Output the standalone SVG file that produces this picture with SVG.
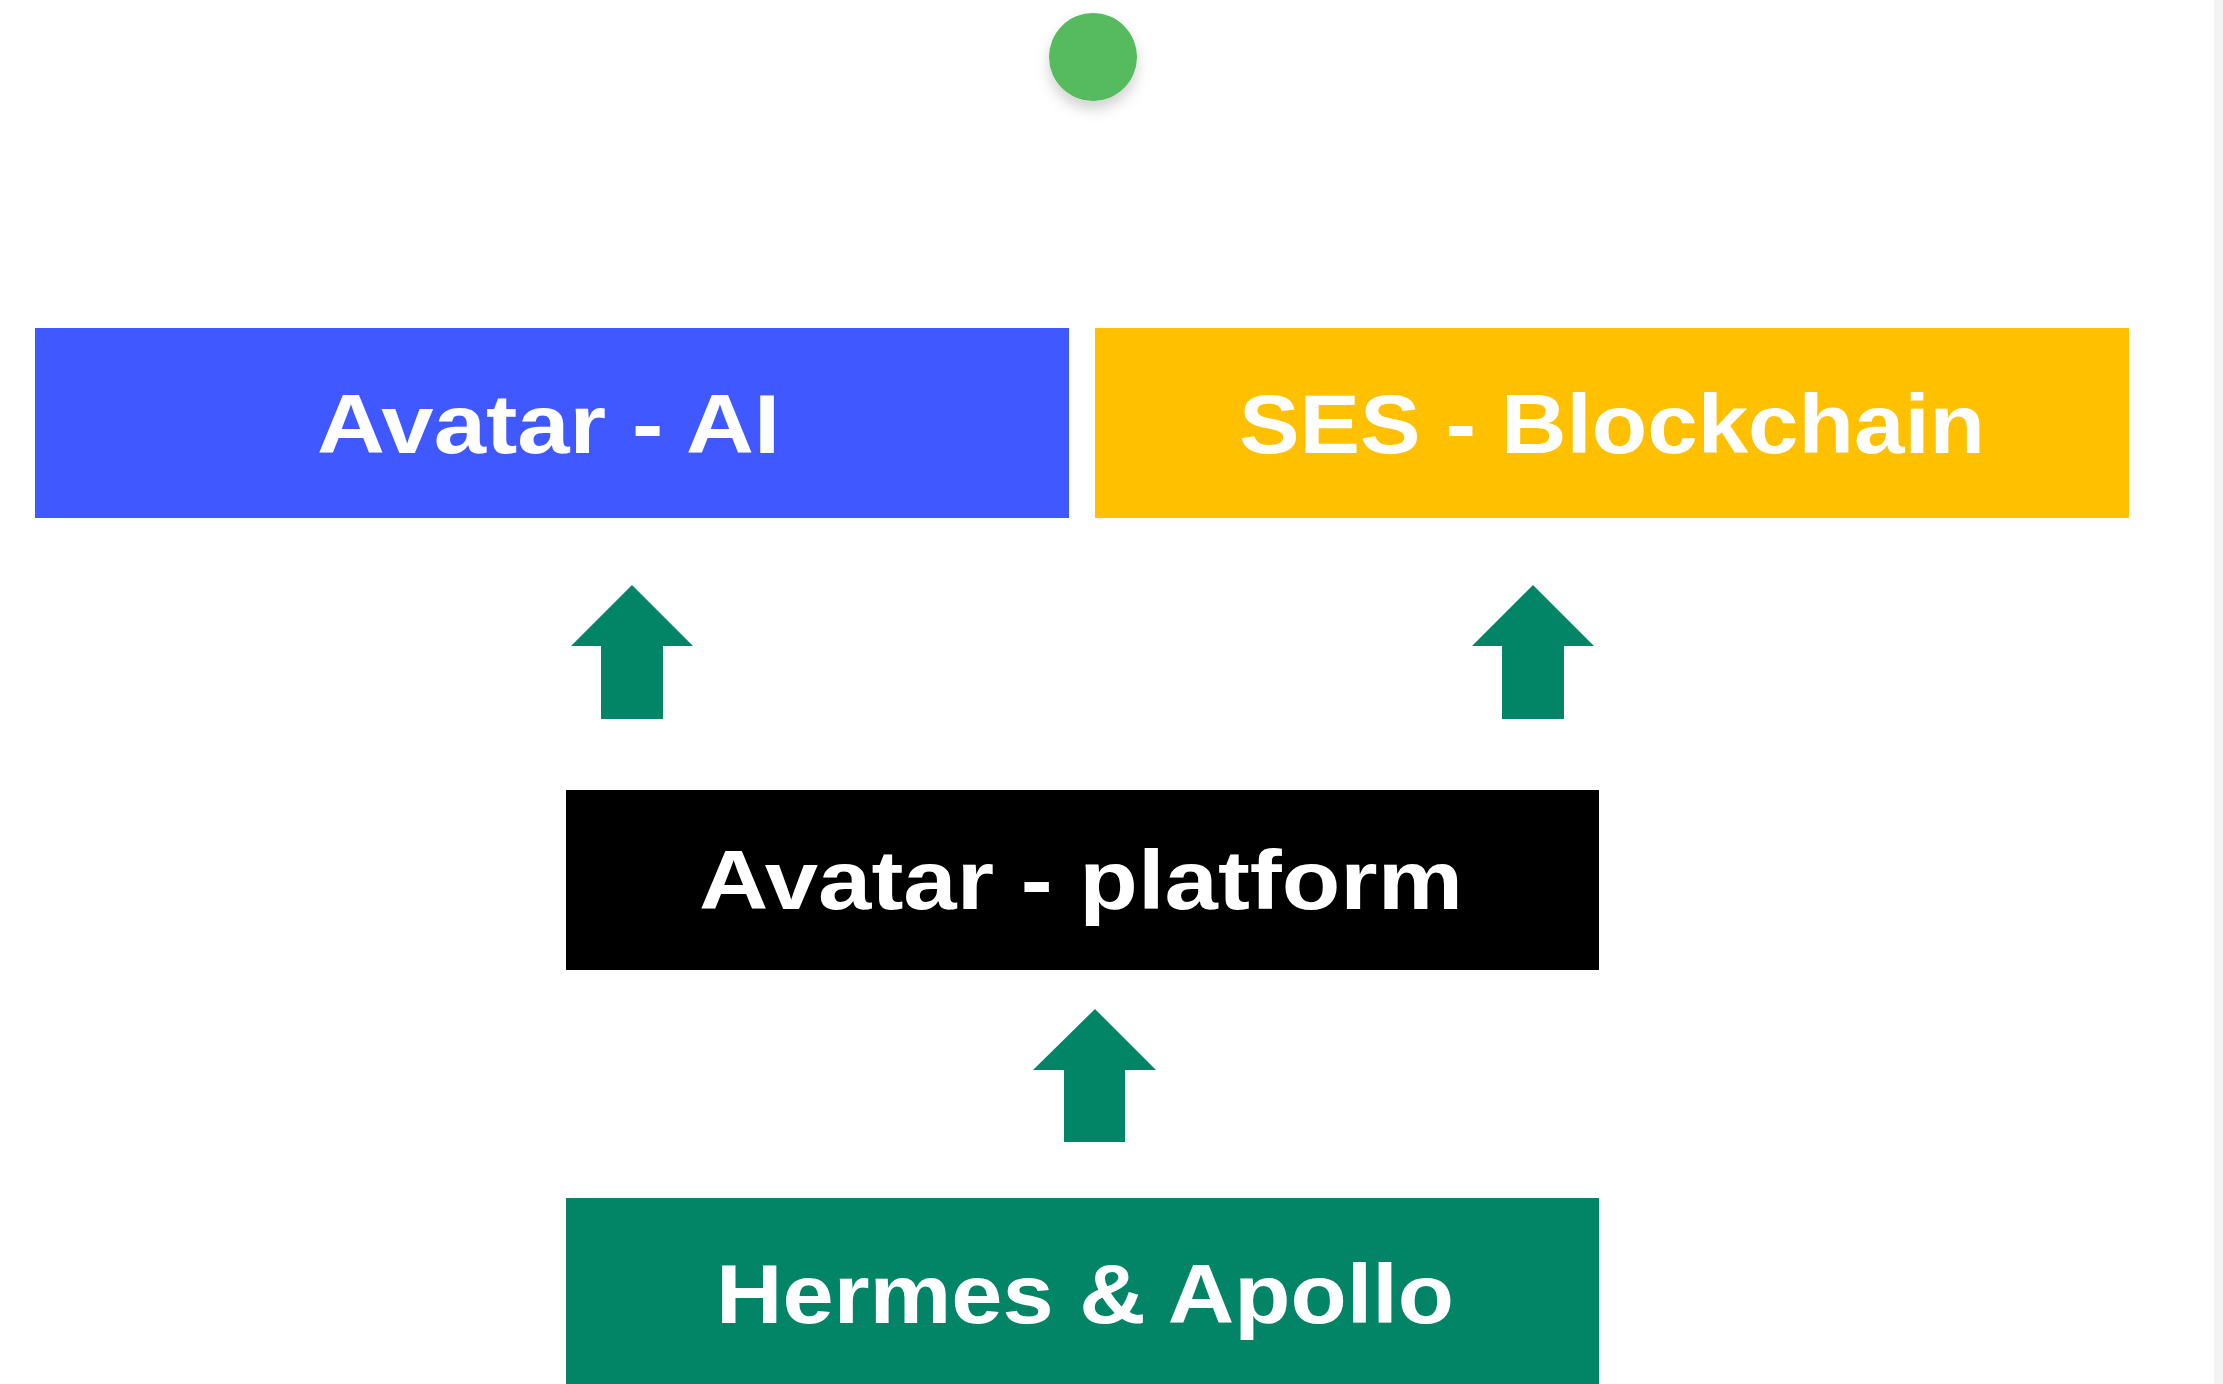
<svg xmlns="http://www.w3.org/2000/svg" width="2223" height="1384" viewBox="0 0 2223 1384">
  <style>
    .lbl { font-family: "Liberation Sans", Arial, sans-serif; font-weight: bold; font-size: 84px; fill: #ffffff; text-anchor: middle; }
    .arrow { fill: #028567; }
  </style>
  <defs>
    <filter id="shadow" x="-50%" y="-50%" width="200%" height="220%">
      <feDropShadow dx="0" dy="8" stdDeviation="7" flood-color="#000000" flood-opacity="0.18"/>
    </filter>
  </defs>
  <rect x="0" y="0" width="2223" height="1384" fill="#ffffff"/>
  <rect x="2214" y="0" width="9" height="1384" fill="#f3f3f3"/>

  <g id="start">
    <circle cx="1093" cy="57" r="44" fill="#57BA5F" filter="url(#shadow)"/>
  </g>

  <g id="avatar-ai">
    <rect x="35" y="328" width="1034" height="190" fill="#3F58FF"/>
    <text class="lbl" x="548.5" y="453" textLength="463" lengthAdjust="spacingAndGlyphs">Avatar - AI</text>
  </g>

  <g id="ses-blockchain">
    <rect x="1095" y="328" width="1034" height="190" fill="#FFC000"/>
    <text class="lbl" x="1612" y="453" textLength="746" lengthAdjust="spacingAndGlyphs">SES - Blockchain</text>
  </g>

  <g id="avatar-platform">
    <rect x="566" y="790" width="1033" height="180" fill="#000000"/>
    <text class="lbl" x="1081" y="909" textLength="764" lengthAdjust="spacingAndGlyphs">Avatar - platform</text>
  </g>

  <g id="hermes-apollo">
    <rect x="566" y="1198" width="1033" height="186" fill="#028567"/>
    <text class="lbl" x="1085" y="1323" textLength="738" lengthAdjust="spacingAndGlyphs">Hermes &amp; Apollo</text>
  </g>

  <g id="connectors">
    <polygon class="arrow" points="632,585 693,646 663,646 663,719 601,719 601,646 571,646"/>
    <polygon class="arrow" points="1533,585 1594,646 1564,646 1564,719 1502,719 1502,646 1472,646"/>
    <polygon class="arrow" points="1095,1009 1156,1070 1125,1070 1125,1142 1064,1142 1064,1070 1033,1070"/>
  </g>
</svg>
